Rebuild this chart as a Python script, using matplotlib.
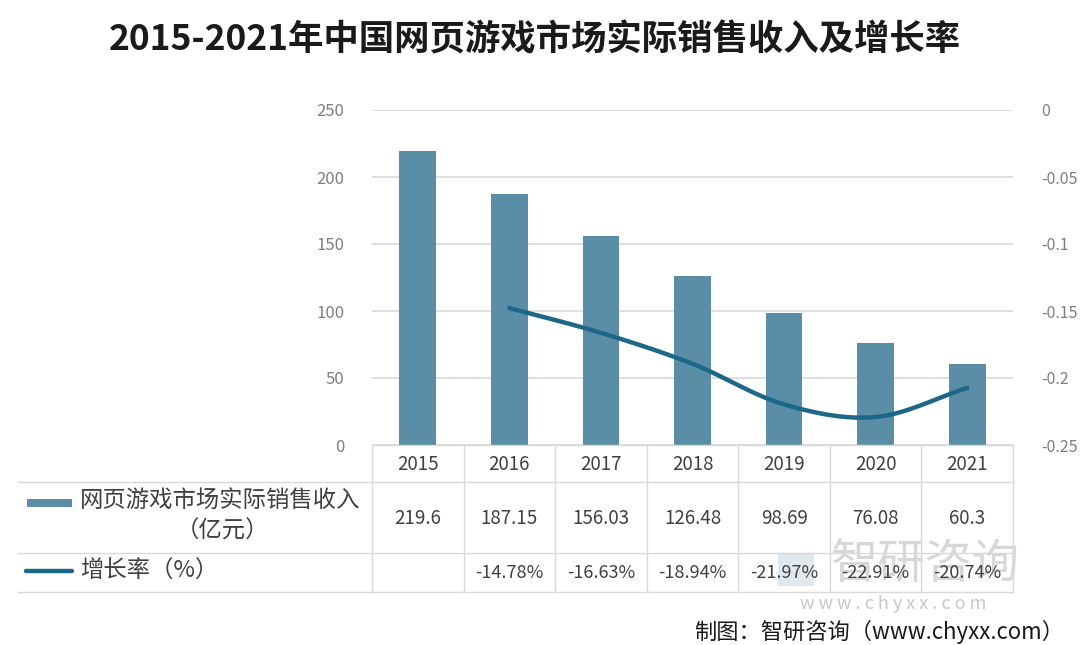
"""2015-2021年中国网页游戏市场实际销售收入及增长率"""
import matplotlib
matplotlib.use("Agg")
import matplotlib.pyplot as plt
import matplotlib.transforms as mtrans
from matplotlib.lines import Line2D
from matplotlib.patches import Rectangle
import numpy as np

plt.rcParams["font.family"] = ["Noto Sans CJK SC", "DejaVu Sans"]

# dades
YEARS = ["2015", "2016", "2017", "2018", "2019", "2020", "2021"]
REVENUE = [219.6, 187.15, 156.03, 126.48, 98.69, 76.08, 60.3]
GROWTH_PCT = [None, -14.78, -16.63, -18.94, -21.97, -22.91, -20.74]
LEFT_TICKS = [0, 50, 100, 150, 200, 250]
RIGHT_TICKS = [0, -0.05, -0.1, -0.15, -0.2, -0.25]
REVENUE_LABEL = "网页游戏市场实际销售收入"
REVENUE_UNIT = "（亿元）"
GROWTH_LABEL = "增长率（%）"
TITLE = "2015-2021年中国网页游戏市场实际销售收入及增长率"
SOURCE = "制图：智研咨询（www.chyxx.com）"

BAR_COLOR = "#5a8ea7"
LINE_COLOR = "#1d6789"
GRID = "#d9d9d9"
TABLE_LINE = "#d9d9d9"
TXT = "#404040"
TICK_TXT = "#7f7f7f"

W, H = 1080, 645


def fy(px):
    """pixel y (des de dalt) -> fracció de figura"""
    return 1 - px / H


def fx(px):
    return px / W


def smooth(xs, ys, steps=20):
    """Corba Catmull-Rom per simular la línia suavitzada d'Excel"""
    xs = np.asarray(xs, float)
    ys = np.asarray(ys, float)
    px = np.concatenate([[2 * xs[0] - xs[1]], xs, [2 * xs[-1] - xs[-2]]])
    py = np.concatenate([[2 * ys[0] - ys[1]], ys, [2 * ys[-1] - ys[-2]]])
    outx, outy = [], []
    for i in range(1, len(px) - 2):
        t = np.linspace(0, 1, steps, endpoint=False)
        for p, out in ((px, outx), (py, outy)):
            p0, p1, p2, p3 = p[i - 1], p[i], p[i + 1], p[i + 2]
            out.extend(0.5 * ((2 * p1) + (-p0 + p2) * t
                              + (2 * p0 - 5 * p1 + 4 * p2 - p3) * t ** 2
                              + (-p0 + 3 * p1 - 3 * p2 + p3) * t ** 3))
    outx.append(xs[-1])
    outy.append(ys[-1])
    return np.array(outx), np.array(outy)


fig = plt.figure(figsize=(W / 100, H / 100), dpi=100)
ax = fig.add_axes([fx(372), fy(445), fx(1013 - 372), (445 - 110) / H])
x = np.arange(len(YEARS))

ax.bar(x, REVENUE, width=0.40, color=BAR_COLOR, zorder=2)
ax.set_xlim(-0.5, len(YEARS) - 0.5)
ax.set_ylim(min(LEFT_TICKS), max(LEFT_TICKS))
ax.set_yticks(LEFT_TICKS)
ax.yaxis.grid(True, color=GRID, linewidth=1.2)
ax.set_axisbelow(True)
ax.set_xticks([])
ax.tick_params(axis="y", length=0, pad=20, labelsize=12, labelcolor=TICK_TXT)
for s in ax.spines.values():
    s.set_visible(False)

ax2 = ax.twinx()
gx = [i for i, g in enumerate(GROWTH_PCT) if g is not None]
gy = [g / 100 for g in GROWTH_PCT if g is not None]
sx, sy = smooth(gx, gy)
ax2.plot(sx, sy, color=LINE_COLOR, linewidth=3.2, solid_capstyle="round", zorder=3)
ax2.set_ylim(min(RIGHT_TICKS), max(RIGHT_TICKS))
ax2.set_yticks(RIGHT_TICKS)
ax2.set_yticklabels(["%g" % v for v in RIGHT_TICKS])
ax2.tick_params(axis="y", length=0, pad=20, labelsize=11.5, labelcolor=TICK_TXT)
for s in ax2.spines.values():
    s.set_visible(False)

# taula de dades
bt = mtrans.blended_transform_factory(ax.transData, fig.transFigure)
ft = fig.transFigure
n = len(YEARS)
row_top, row_year, row_rev, row_bot = 445, 482, 553, 592
for b in np.arange(-0.5, n, 1.0):
    fig.add_artist(Line2D([b, b], [fy(row_top), fy(row_bot)], transform=bt,
                          color=TABLE_LINE, linewidth=1))
fig.add_artist(Line2D([-0.5, n - 0.5], [fy(row_top)] * 2, transform=bt,
                      color=TABLE_LINE, linewidth=1))
for r in (row_year, row_rev, row_bot):
    fig.add_artist(Line2D([fx(18), fx(372)], [fy(r)] * 2, transform=ft,
                          color=TABLE_LINE, linewidth=1))
    fig.add_artist(Line2D([-0.5, n - 0.5], [fy(r)] * 2, transform=bt,
                          color=TABLE_LINE, linewidth=1))

# marca d'aigua (per sota dels textos de la taula)
fig.add_artist(Rectangle((fx(778), fy(586)), fx(36), 32 / H, transform=ft,
                         facecolor="#c3d0dc", edgecolor="none", alpha=0.5))
fig.text(fx(830), fy(566), "智研咨询", ha="left", va="center", fontsize=34,
         color="#b0b0b0", alpha=0.5, zorder=0)
fig.text(fx(800), fy(604), "w w w . c h y x x . c o m", ha="left", va="center",
         fontsize=13, color="#b0b0b0", alpha=0.7, zorder=0)

for i, yr in enumerate(YEARS):
    fig.text(i, fy(465), yr, transform=bt, ha="center", va="center",
             fontsize=13.5, color=TXT)
    fig.text(i, fy(518), "%g" % REVENUE[i], transform=bt, ha="center",
             va="center", fontsize=13.5, color=TXT)
    if GROWTH_PCT[i] is not None:
        fig.text(i, fy(573), "%.2f%%" % GROWTH_PCT[i], transform=bt,
                 ha="center", va="center", fontsize=13, color=TXT)

fig.add_artist(Rectangle((fx(27), fy(507)), fx(45), 8 / H, transform=ft,
                         facecolor=BAR_COLOR, edgecolor="none"))
fig.text(fx(80), fy(500), REVENUE_LABEL, ha="left", va="center",
         fontsize=16.8, color=TXT)
fig.text(fx(222), fy(531), REVENUE_UNIT, ha="center", va="center",
         fontsize=16.8, color=TXT)
fig.add_artist(Line2D([fx(26), fx(72)], [fy(571)] * 2, transform=ft,
                      color=LINE_COLOR, linewidth=3.2, solid_capstyle="round"))
fig.text(fx(80), fy(571), GROWTH_LABEL, ha="left", va="center",
         fontsize=16.8, color=TXT)

fig.text(fx(535), fy(40), TITLE, ha="center", va="center", fontsize=25.5,
         fontweight="bold", color="#1a1a1a")
fig.text(fx(1064), fy(632), SOURCE, ha="right", va="center", fontsize=16,
         color="#1a1a1a")

fig.savefig("out.png", dpi=100)
